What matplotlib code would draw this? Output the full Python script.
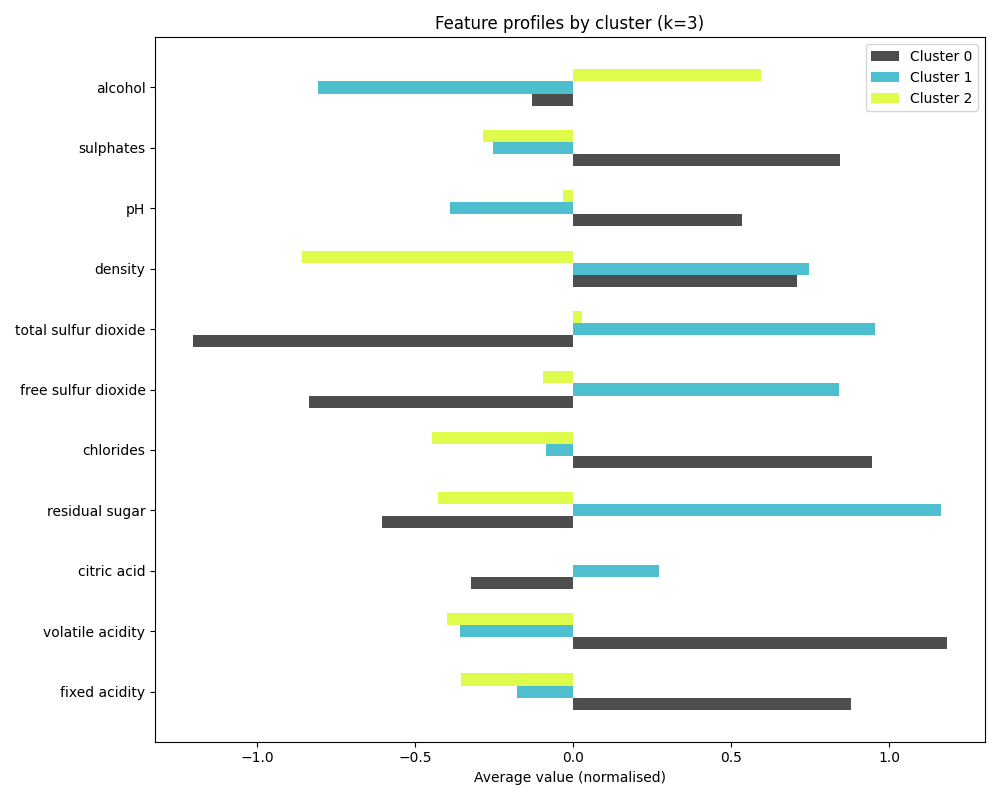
import numpy as np
import matplotlib
matplotlib.use("Agg")
import matplotlib.pyplot as plt

# features, bottom to top
features = ["fixed acidity", "volatile acidity", "citric acid", "residual sugar",
            "chlorides", "free sulfur dioxide", "total sulfur dioxide", "density",
            "pH", "sulphates", "alcohol"]

cluster0 = [0.880, 1.184, -0.323, -0.604, 0.946, -0.835, -1.203, 0.709, 0.535, 0.845, -0.130]
cluster1 = [-0.177, -0.358, 0.272, 1.165, -0.085, 0.842, 0.956, 0.747, -0.389, -0.253, -0.807]
cluster2 = [-0.354, -0.399, 0.000, -0.427, -0.446, -0.095, 0.028, -0.858, -0.032, -0.285, 0.595]

colors = ["#4d4d4d", "#4ebfcf", "#dffb4b"]

y = np.arange(len(features))
h = 0.2

fig, ax = plt.subplots(figsize=(10, 8), dpi=100)
ax.barh(y - h, cluster0, height=h, color=colors[0], label="Cluster 0")
ax.barh(y, cluster1, height=h, color=colors[1], label="Cluster 1")
ax.barh(y + h, cluster2, height=h, color=colors[2], label="Cluster 2")

ax.set_yticks(y)
ax.set_yticklabels(features)
ax.set_xlabel("Average value (normalised)")
ax.set_title("Feature profiles by cluster (k=3)")
ax.legend(loc="upper right")

plt.tight_layout()
plt.savefig("out.png")
